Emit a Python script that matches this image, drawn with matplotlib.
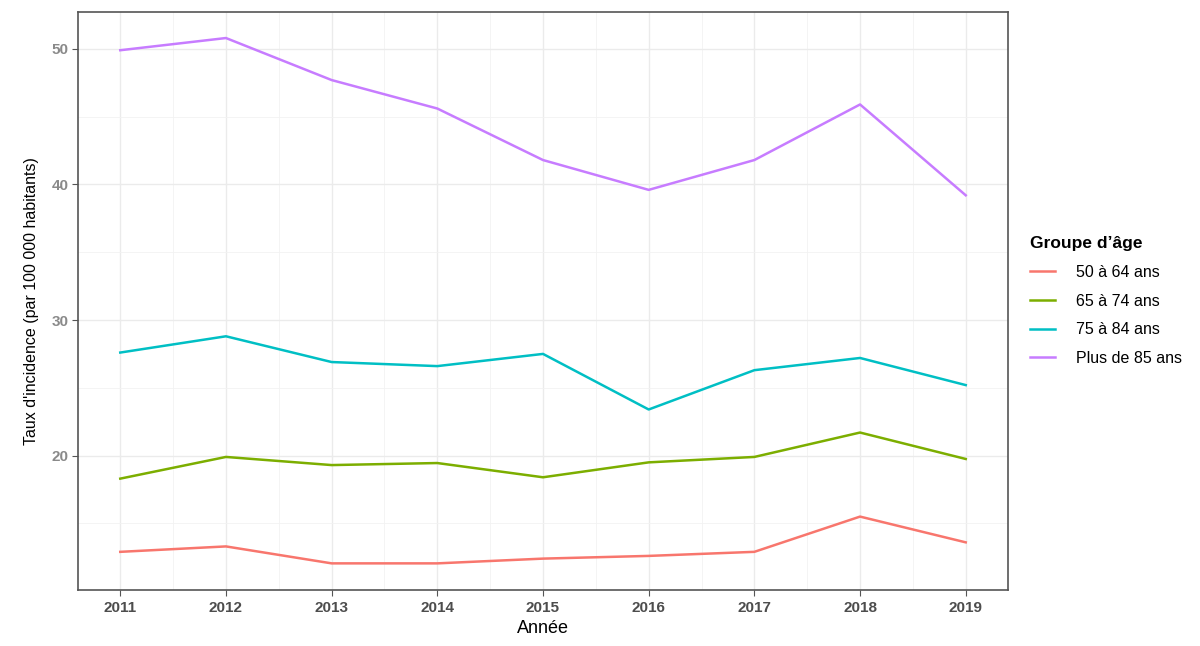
import matplotlib.pyplot as plt
from matplotlib.ticker import MultipleLocator

plt.rcParams['font.family'] = ['Liberation Sans', 'DejaVu Sans']

# Données
annees = [2011, 2012, 2013, 2014, 2015, 2016, 2017, 2018, 2019]
groupes = ['50 à 64 ans', '65 à 74 ans', '75 à 84 ans', 'Plus de 85 ans']
taux_50_64 = [12.9, 13.3, 12.05, 12.05, 12.4, 12.6, 12.9, 15.5, 13.6]
taux_65_74 = [18.3, 19.9, 19.3, 19.45, 18.4, 19.5, 19.9, 21.7, 19.75]
taux_75_84 = [27.6, 28.8, 26.9, 26.6, 27.5, 23.4, 26.3, 27.2, 25.2]
taux_85_plus = [49.9, 50.8, 47.7, 45.6, 41.8, 39.6, 41.8, 45.9, 39.2]
series = [taux_50_64, taux_65_74, taux_75_84, taux_85_plus]
couleurs = ['#F8766D', '#7CAE00', '#00BFC4', '#C77CFF']

fig = plt.figure(figsize=(12, 6.46), dpi=100, facecolor='white')
ax = fig.add_axes([0.065, 0.087, 0.775, 0.894])

for valeurs, nom, c in zip(series, groupes, couleurs):
    ax.plot(annees, valeurs, color=c, linewidth=1.8, label=nom, zorder=3)

ax.set_xlim(2010.6, 2019.4)
ax.set_ylim(10.1, 52.7)
ax.set_xticks(annees)
ax.xaxis.set_minor_locator(MultipleLocator(0.5))
ax.yaxis.set_minor_locator(MultipleLocator(5))
ax.set_yticks([20, 30, 40, 50])

ax.grid(which='major', color='#ebebeb', linewidth=1.0, zorder=0)
ax.grid(which='minor', color='#f2f2f2', linewidth=0.6, zorder=0)
ax.tick_params(which='minor', length=0)
ax.tick_params(which='major', length=4, width=0.8, color='#555555', direction='out')
ax.tick_params(axis='x', labelsize=11, labelcolor='#4d4d4d', pad=4)
ax.tick_params(axis='y', labelsize=11, labelcolor='#8a8a8a', pad=3)
for lab in ax.get_xticklabels() + ax.get_yticklabels():
    lab.set_fontweight('bold')

for s in ax.spines.values():
    s.set_color('#555555')
    s.set_linewidth(1.2)

ax.set_xlabel('Année', fontsize=13, labelpad=4)
ax.set_ylabel("Taux d'incidence (par 100 000 habitants)", fontsize=11.5, labelpad=9)

leg = ax.legend(title="Groupe d’âge", loc='center left', bbox_to_anchor=(1.008, 0.5),
                frameon=False, fontsize=11.5, handlelength=1.6, labelspacing=0.85,
                handletextpad=1.3, alignment='left')
leg.get_title().set_fontweight('bold')
leg.get_title().set_fontsize(12.5)

fig.savefig('out.png', dpi=100)
